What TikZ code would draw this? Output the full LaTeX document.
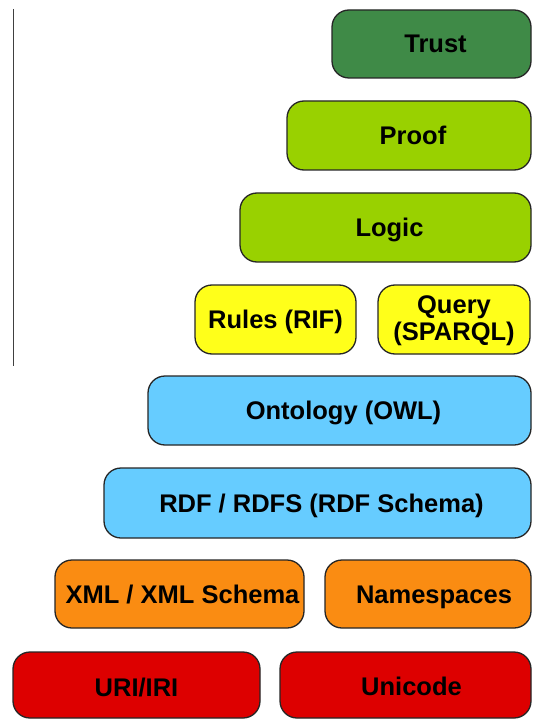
\documentclass[tikz,border=0pt]{standalone}
\usepackage{fontspec}
\setmainfont{Liberation Sans}
\definecolor{trustgreen}{HTML}{3F8A47}
\definecolor{limegreen}{HTML}{99D100}
\definecolor{ruleyellow}{HTML}{FFFF1A}
\definecolor{skyblue}{HTML}{66CCFF}
\definecolor{xmlorange}{HTML}{FA8C12}
\definecolor{basered}{HTML}{DD0000}
\begin{document}
\begin{tikzpicture}[x=1pt,y=-1pt,
  layer/.style={draw=black!85, line width=1.3pt, rounded corners=17pt,
    inner sep=0pt},
  lay/.style args={#1/#2/#3}{layer, fill=#1, minimum width=#2pt, minimum height=#3pt},
  caption/.style={inner sep=0pt, align=center,
    font=\fontsize{25.5}{27}\selectfont\bfseries},
  oneline/.style={caption, text height=18pt, text depth=0pt}]
\useasboundingbox (0,0) rectangle (533,719);
\fill[white] (0,0) rectangle (533,719);
% left margin rule
\coordinate (ruletop) at (13,9);
\coordinate (rulebot) at (13,366);
\draw[black!75, line width=1pt] (ruletop) -- (rulebot);
% the layers, top to bottom
\node[lay=trustgreen/199/68] (trust) at (431.5,44) {};
\node[lay=limegreen/244/69] (proof) at (409,135.5) {};
\node[lay=limegreen/291/69] (logic) at (385.5,227.5) {};
\node[lay=ruleyellow/161/69] (rules) at (275.5,319.5) {};
\node[lay=ruleyellow/152/69] (query) at (454,319.5) {};
\node[lay=skyblue/383/69] (owl) at (339.5,410.5) {};
\node[lay=skyblue/427/70] (rdf) at (317.5,503) {};
\node[lay=xmlorange/249/68] (xml) at (179.5,594) {};
\node[lay=xmlorange/206/68] (ns) at (428,594) {};
\node[lay=basered/247/66] (uri) at (136.5,685) {};
\node[lay=basered/251/66] (unicode) at (405.5,685) {};
% captions (yshift is measured upward)
\node[oneline] (trusttxt) at ([xshift=4pt]trust.center) {Trust};
\node[oneline] (prooftxt) at ([xshift=4pt]proof.center) {Proof};
\node[oneline] (logictxt) at ([xshift=4pt]logic.center) {Logic};
\node[oneline] (rulestxt) at (rules.center) {Rules (RIF)};
\node[caption] (querytxt) at ([yshift=-1pt]query.center) {Query\\(SPARQL)};
\node[oneline] (owltxt) at ([xshift=4pt]owl.center) {Ontology (OWL)};
\node[oneline] (rdftxt) at ([xshift=4pt]rdf.center) {RDF / RDFS (RDF Schema)};
\node[oneline] (xmltxt) at ([xshift=3pt]xml.center) {XML / XML Schema};
\node[oneline] (nstxt) at ([xshift=6pt]ns.center) {Namespaces};
\node[oneline] (uritxt) at ([yshift=-2pt]uri.center) {URI/IRI};
\node[oneline] (unicodetxt) at ([xshift=6pt,yshift=-1pt]unicode.center) {Unicode};
\end{tikzpicture}
\end{document}
